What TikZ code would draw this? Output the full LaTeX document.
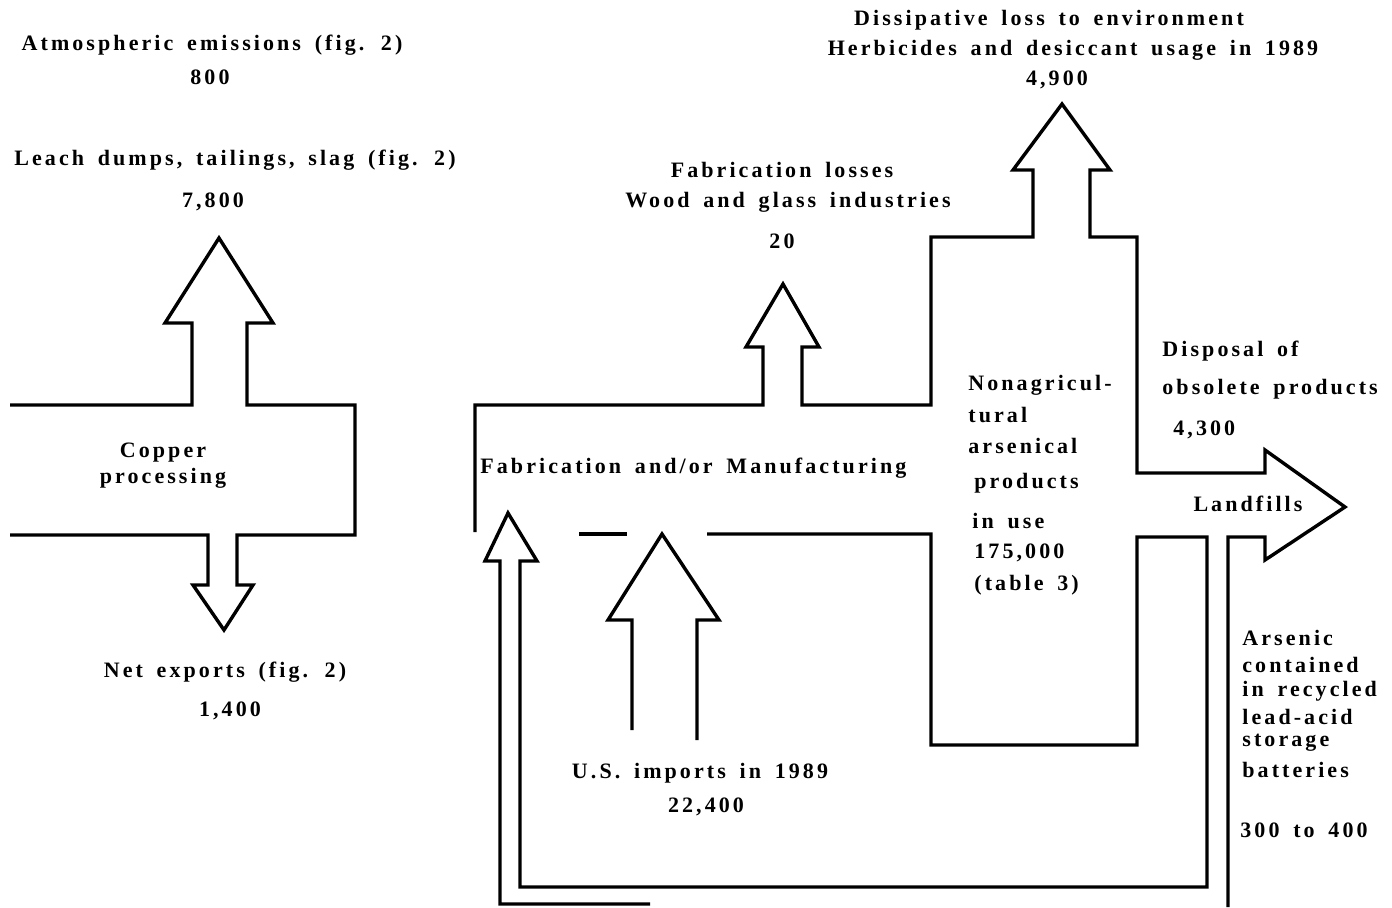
\documentclass[tikz,border=0pt]{standalone}
\usepackage{fontspec}
\setmainfont{Liberation Serif}[LetterSpace=14, WordSpace=1.6]
\begin{document}
\begin{tikzpicture}[x=0.5pt,y=-0.5pt,
	flow/.style={line width=1.7pt, line join=miter},
	lbl/.style={font=\bfseries\fontsize{11}{13}\selectfont, inner sep=0pt}]
\def\bot{907}
\useasboundingbox (0,0) rectangle (1392,\bot);

% copper processing
\draw[flow] (10,405) -- (192,405) -- (192,323) -- (165,323) -- (219,238) -- (273,323)
	-- (247,323) -- (247,405) -- (355,405) -- (355,535) -- (237,535) -- (237,585)
	-- (253,585) -- (224,630) -- (193,585) -- (208,585) -- (208,535) -- (10,535);

% fabrication, products in use, landfills
\draw[flow] (475,532) -- (475,405) -- (763,405) -- (763,347) -- (746,347) -- (783,284)
	-- (819,347) -- (802,347) -- (802,405) -- (931,405) -- (931,237) -- (1033,237)
	-- (1033,170) -- (1013,170) -- (1062,104) -- (1110,170) -- (1090,170) -- (1090,237)
	-- (1137,237) -- (1137,473) -- (1265,473) -- (1265,450) -- (1345,507) -- (1265,560)
	-- (1265,537) -- (1228,537) -- (1228,\bot);
\draw[flow] (579,534) -- (627,534);
\draw[flow] (707,534) -- (931,534) -- (931,745) -- (1137,745) -- (1137,537) -- (1207,537)
	-- (1207,887) -- (520,887) -- (520,561) -- (537,561) -- (508,513) -- (485,561)
	-- (500,561) -- (500,904) -- (650,904);

% imports
\draw[flow] (632,730) -- (632,620) -- (608,620) -- (662,534) -- (719,620) -- (697,620) -- (697,740);

% labels
\node[lbl] (atm) at (212,45) {Atmospheric emissions (fig. 2)};
\node[lbl] (atmv) at (210,77) {800};
\node[lbl] (leach) at (235,160) {Leach dumps, tailings, slag (fig. 2)};
\node[lbl] (leachv) at (213,202) {7,800};
\node[lbl, align=center] (copper) at (163,466) {Copper\\processing};
\node[lbl] (exp) at (225,672) {Net exports (fig. 2)};
\node[lbl] (expv) at (230,711) {1,400};
\node[lbl] (fabl) at (782,170) {Fabrication losses};
\node[lbl] (wood) at (788,202) {Wood and glass industries};
\node[lbl] (fablv) at (782,241) {20};
\node[lbl] (diss) at (1049,20) {Dissipative loss to environment};
\node[lbl] (herb) at (1073,50) {Herbicides and desiccant usage in 1989};
\node[lbl] (dissv) at (1057,80) {4,900};
\node[lbl, anchor=west] (fab) at (480,468) {Fabrication and/or Manufacturing};
\node[lbl] (imp) at (700,773) {U.S. imports in 1989};
\node[lbl] (impv) at (706,807) {22,400};
\node[lbl, anchor=west] (disp) at (1162,351) {Disposal of};
\node[lbl, anchor=west] (obs) at (1162,389) {obsolete products};
\node[lbl, anchor=west] (dispv) at (1173,430) {4,300};
\node[lbl] (land) at (1248,504) {Landfills};

\foreach \txt/\xx/\yy [count=\i] in {Nonagricul-/968/385, tural/968/415, arsenical/968/446,
	products/974/483, in use/972/521, {175,000}/974/553, (table 3)/974/585}
	\node[lbl, anchor=west] (use\i) at (\xx,\yy) {\txt};

\foreach \txt/\yy [count=\i] in {Arsenic/638, contained/665, in recycled/691,
	lead-acid/717, storage/743, batteries/770}
	\node[lbl, anchor=west] (bat\i) at (1242,\yy) {\txt};
\node[lbl, anchor=west] (batv) at (1240,830) {300 to 400};

\end{tikzpicture}
\end{document}
